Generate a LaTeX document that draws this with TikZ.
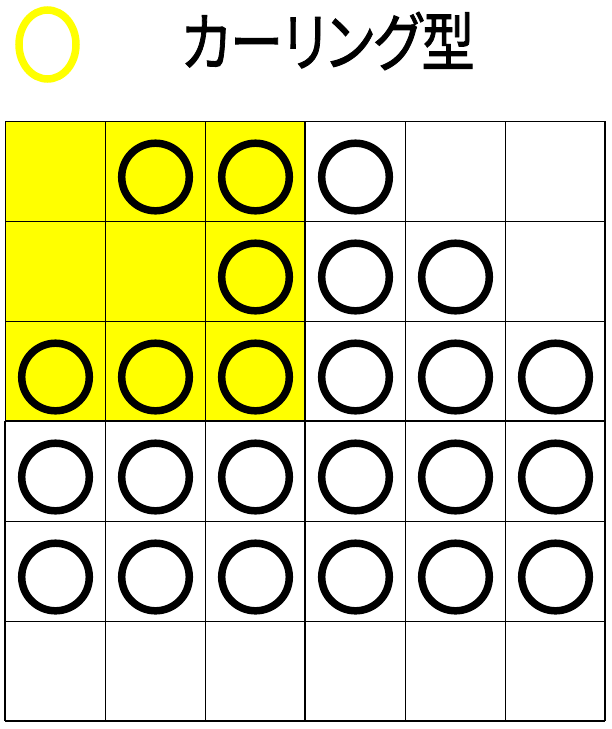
\documentclass[tikz,border=0pt]{standalone}
\usepackage{fontspec}
\usetikzlibrary{shapes.geometric}
\newfontfamily\jpfont[RawFeature=+palt, FakeBold=1.5]{Noto Sans CJK JP}
\definecolor{markyellow}{RGB}{255,255,0}
\tikzset{
  thin grid/.style={line width=1pt, black},
  thick grid/.style={line width=1.8pt, black},
  stone/.style={circle, draw=black, line width=7.5pt, minimum size=67.6pt, inner sep=0pt},
  yellowmark/.style={ellipse, draw=markyellow, line width=7.5pt, minimum width=57pt, minimum height=69pt, inner sep=0pt},
}
\begin{document}
\begin{tikzpicture}[x=1pt,y=-1pt]
\useasboundingbox (0,0) rectangle (612,729);
\fill[white] (0,0) rectangle (612,729);
% yellow area
\fill[markyellow] (5,121) rectangle (305,421);
% grid
\foreach \i in {0,...,6} {
  \draw[thin grid] (5+100*\i,121) -- (5+100*\i,721);
  \draw[thin grid] (5,121+100*\i) -- (605,121+100*\i);
}
\draw[thick grid] (305,121) -- (305,721);
\draw[thick grid] (5,421) -- (605,421);
\draw[thick grid] (605,121) -- (605,721);
\draw[thick grid] (5,721) -- (605,721);
\draw[thick grid] (5,421) -- (5,721);
% title
\node[yellowmark] (mark) at (47.5,44.5) {};
\node[inner sep=0pt, anchor=center, xscale=0.83] (title) at (328,41) {\jpfont\fontsize{64pt}{64pt}\selectfont カーリング型};
% stones
\foreach \i/\j in {1/0,2/0,3/0, 2/1,3/1,4/1,
  0/2,1/2,2/2,3/2,4/2,5/2,
  0/3,1/3,2/3,3/3,4/3,5/3,
  0/4,1/4,2/4,3/4,4/4,5/4} {
  \node[stone] (s-\i-\j) at (55.5+100*\i,177+100*\j) {};
}
\end{tikzpicture}
\end{document}
